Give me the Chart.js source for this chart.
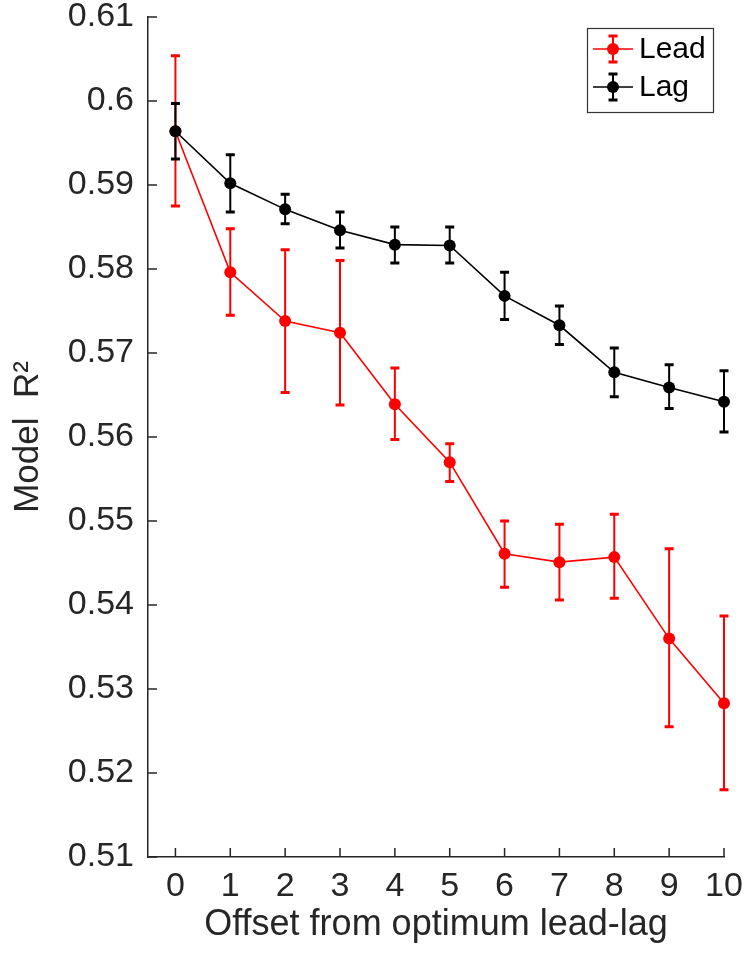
<!DOCTYPE html>
<html><head><meta charset="utf-8">
<script src="https://cdn.jsdelivr.net/npm/chart.js@4"></script>
<style>html,body{margin:0;padding:0;background:#fff}#wrap{width:748px;height:959px}</style>
</head><body><div id="wrap"><canvas id="c" width="748" height="959"></canvas></div>
<script>
const offsets = [0, 1, 2, 3, 4, 5, 6, 7, 8, 9, 10];
const leadMean = [0.5964, 0.5796, 0.5738, 0.5724, 0.5639, 0.5570, 0.5461, 0.5451, 0.5457, 0.5360, 0.5283];
const leadLow  = [0.5875, 0.5745, 0.5653, 0.5638, 0.5597, 0.5547, 0.5421, 0.5406, 0.5408, 0.5255, 0.5180];
const leadHigh = [0.6054, 0.5848, 0.5823, 0.5810, 0.5682, 0.5592, 0.5500, 0.5496, 0.5508, 0.5467, 0.5387];
const lagMean  = [0.5964, 0.5902, 0.5871, 0.5846, 0.5829, 0.5828, 0.5768, 0.5733, 0.5677, 0.5659, 0.5642];
const lagLow   = [0.5931, 0.5868, 0.5854, 0.5825, 0.5807, 0.5807, 0.5740, 0.5710, 0.5648, 0.5634, 0.5606];
const lagHigh  = [0.5997, 0.5936, 0.5889, 0.5868, 0.5850, 0.5850, 0.5796, 0.5756, 0.5706, 0.5686, 0.5679];
const yTicks = [0.51, 0.52, 0.53, 0.54, 0.55, 0.56, 0.57, 0.58, 0.59, 0.60, 0.61];
const seriesNames = ['Lead', 'Lag'];
const xTitle = 'Offset from optimum lead-lag';
const yTitle = 'Model  R\u00B2';

const AX = '#262626';
const FONT = "'Liberation Sans', Arial, Helvetica, sans-serif";

const errorBars = {
  id: 'errorBars',
  beforeDatasetDraw(chart, args) {
    const ds = chart.data.datasets[args.index];
    if (!ds.errLow) return;
    const ctx = chart.ctx, xs = chart.scales.x, ys = chart.scales.y;
    ctx.save();
    ctx.strokeStyle = ds.borderColor;
    for (let i = 0; i < ds.data.length; i++) {
      const px = xs.getPixelForValue(ds.data[i].x);
      const yl = ys.getPixelForValue(ds.errLow[i]);
      const yh = ys.getPixelForValue(ds.errHigh[i]);
      ctx.lineWidth = 2;
      ctx.beginPath(); ctx.moveTo(px, yl); ctx.lineTo(px, yh); ctx.stroke();
      ctx.lineWidth = 3;
      ctx.beginPath();
      ctx.moveTo(px - 4.5, yl); ctx.lineTo(px + 4.5, yl);
      ctx.moveTo(px - 4.5, yh); ctx.lineTo(px + 4.5, yh);
      ctx.stroke();
    }
    ctx.restore();
  }
};

const inwardTicks = {
  id: 'inwardTicks',
  afterDraw(chart) {
    const ctx = chart.ctx, xs = chart.scales.x, ys = chart.scales.y, a = chart.chartArea;
    ctx.save();
    ctx.strokeStyle = AX; ctx.lineWidth = 1.5;
    ctx.beginPath();
    ys.ticks.forEach(t => { const y = ys.getPixelForValue(t.value); ctx.moveTo(a.left, y); ctx.lineTo(a.left + 9, y); });
    xs.ticks.forEach(t => { const x = xs.getPixelForValue(t.value); ctx.moveTo(x, a.bottom); ctx.lineTo(x, a.bottom - 9); });
    ctx.stroke();
    ctx.restore();
  }
};

const boxLegend = {
  id: 'boxLegend',
  afterDraw(chart) {
    const ctx = chart.ctx, a = chart.chartArea;
    const bx = a.right - 137, by = a.top + 11, bw = 126, bh = 84;
    ctx.save();
    ctx.fillStyle = '#fff';
    ctx.fillRect(bx, by, bw, bh);
    ctx.strokeStyle = '#333'; ctx.lineWidth = 1.2;
    ctx.strokeRect(bx + 0.5, by + 0.5, bw, bh);
    chart.data.datasets.forEach((ds, i) => {
      const cy = by + 21 + i * 38;
      const cx = bx + 26;
      ctx.strokeStyle = ds.borderColor; ctx.fillStyle = ds.borderColor;
      ctx.lineWidth = 1.5;
      ctx.beginPath(); ctx.moveTo(bx + 6, cy); ctx.lineTo(bx + 46, cy); ctx.stroke();
      ctx.lineWidth = 2;
      ctx.beginPath(); ctx.moveTo(cx, cy - 13); ctx.lineTo(cx, cy + 13); ctx.stroke();
      ctx.lineWidth = 3;
      ctx.beginPath();
      ctx.moveTo(cx - 4.5, cy - 13); ctx.lineTo(cx + 4.5, cy - 13);
      ctx.moveTo(cx - 4.5, cy + 13); ctx.lineTo(cx + 4.5, cy + 13);
      ctx.stroke();
      ctx.beginPath(); ctx.arc(cx, cy, 6, 0, Math.PI * 2); ctx.fill();
      ctx.fillStyle = '#000';
      ctx.font = '30px ' + FONT;
      ctx.textBaseline = 'middle'; ctx.textAlign = 'left';
      ctx.fillText(ds.label, bx + 52, cy + 1);
    });
    ctx.restore();
  }
};

const mk = (xs, ys) => xs.map((x, i) => ({ x: x, y: ys[i] }));

new Chart(document.getElementById('c'), {
  type: 'line',
  data: {
    datasets: [
      { label: seriesNames[0], data: mk(offsets, leadMean), errLow: leadLow, errHigh: leadHigh,
        borderColor: '#ff0000', backgroundColor: '#ff0000', borderWidth: 1.6,
        pointRadius: 6, pointBorderWidth: 0, pointBackgroundColor: '#ff0000', order: 1, clip: false, tension: 0 },
      { label: seriesNames[1], data: mk(offsets, lagMean), errLow: lagLow, errHigh: lagHigh,
        borderColor: '#000000', backgroundColor: '#000000', borderWidth: 1.6,
        pointRadius: 6, pointBorderWidth: 0, pointBackgroundColor: '#000000', order: 0, clip: false, tension: 0 }
    ]
  },
  options: {
    responsive: false,
    animation: false,
    devicePixelRatio: 1,
    layout: { padding: { left: 0, top: 17, right: 24, bottom: 0 } },
    plugins: { legend: { display: false }, tooltip: { enabled: false } },
    scales: {
      x: {
        type: 'linear', min: -0.5, max: 10,
        afterBuildTicks: s => { s.ticks = offsets.map(v => ({ value: v })); },
        afterFit: s => { s.height = 102; s.paddingLeft = 0; s.paddingRight = 0; },
        grid: { display: false, drawTicks: false },
        border: { display: true, color: AX, width: 1.5 },
        ticks: { color: AX, padding: 13, font: { family: FONT, size: 34, lineHeight: 1 }, maxRotation: 0, autoSkip: false,
                 callback: v => String(v) },
        title: { display: true, text: xTitle, color: AX, font: { family: FONT, size: 36, lineHeight: 1 }, padding: { top: 0, bottom: 16 } }
      },
      y: {
        type: 'linear', min: 0.51, max: 0.61,
        afterBuildTicks: s => { s.ticks = yTicks.map(v => ({ value: v })); },
        afterFit: s => { s.width = 148; s.paddingTop = 0; s.paddingBottom = 0; },
        grid: { display: false, drawTicks: false },
        border: { display: true, color: AX, width: 1.5 },
        ticks: { color: AX, padding: 14, font: { family: FONT, size: 34, lineHeight: 1 },
                 callback: v => String(+(+v).toFixed(2)) },
        title: { display: true, text: yTitle, color: AX, font: { family: FONT, size: 35, lineHeight: 1 }, padding: { top: 11, bottom: 0 } }
      }
    }
  },
  plugins: [errorBars, inwardTicks, boxLegend]
});
</script>
</body></html>
